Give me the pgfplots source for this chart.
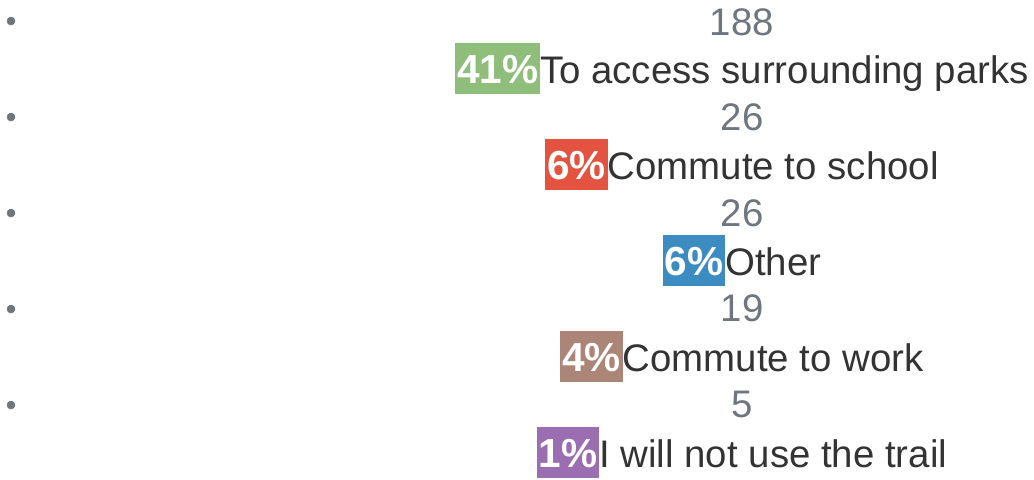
\documentclass[border=0pt]{standalone}
\usepackage{pgfplots}
\pgfplotsset{compat=1.18}
\usepackage{pgfplotstable}
\usepackage{fontspec}
\setmainfont{Liberation Sans}
\definecolor{cgreen}{HTML}{8FBE7B}
\definecolor{cred}{HTML}{E4533F}
\definecolor{cblue}{HTML}{3C8CC2}
\definecolor{cbrown}{HTML}{AA8578}
\definecolor{cpurple}{HTML}{9A6EB0}
\definecolor{numgray}{HTML}{6E7680}
\definecolor{txt}{HTML}{333333}
\newcommand{\pb}[3]{{\setlength{\fboxsep}{0pt}\colorbox{#1}{\hspace{1.5pt}\rule[-8.25pt]{0pt}{38.25pt}\textcolor{white}{\fontsize{30.4pt}{34pt}\selectfont\bfseries#2\%}\hspace{1.5pt}}}#3}
\pgfplotstableread[col sep=comma]{
bx,by,cx,ny,ly,count,label
11,21,742,35,83,188,\pb{cgreen}{41}{To access surrounding parks}
11,117,742,130.5,179,26,\pb{cred}{6}{Commute to school}
11,213,742,226,275,26,\pb{cblue}{6}{Other}
11,309,742,321.5,371,19,\pb{cbrown}{4}{Commute to work}
11,405,742,417,467,5,\pb{cpurple}{1}{I will not use the trail}
}\datatable
\newcommand{\bigf}{\fontsize{28.8pt}{34.5pt}\selectfont}
\begin{document}
\begin{tikzpicture}
\begin{axis}[
  scale only axis, width=775.5pt, height=359.25pt,
  xmin=0, xmax=1034, ymin=0, ymax=479, y dir=reverse,
  hide axis, clip=false,
]
% bullets
\addplot[only marks, mark=*, mark size=3pt, color=numgray]
  table[x=bx, y=by]{\datatable};
% counts
\addplot[draw=none, mark=none, nodes near coords, point meta=explicit symbolic,
  every node near coord/.append style={anchor=base, inner sep=0pt, font=\bigf, text=numgray}]
  table[x=cx, y=ny, meta=count]{\datatable};
% labels
\addplot[draw=none, mark=none, point meta=explicit symbolic, nodes near coords,
  every node near coord/.append style={anchor=base, inner sep=0pt, font=\bigf, text=txt}]
  table[x=cx, y=ly, meta=label]{\datatable};
\end{axis}
\pgfresetboundingbox
\path (current axis.south west) rectangle (current axis.north east);
\end{tikzpicture}
\end{document}
